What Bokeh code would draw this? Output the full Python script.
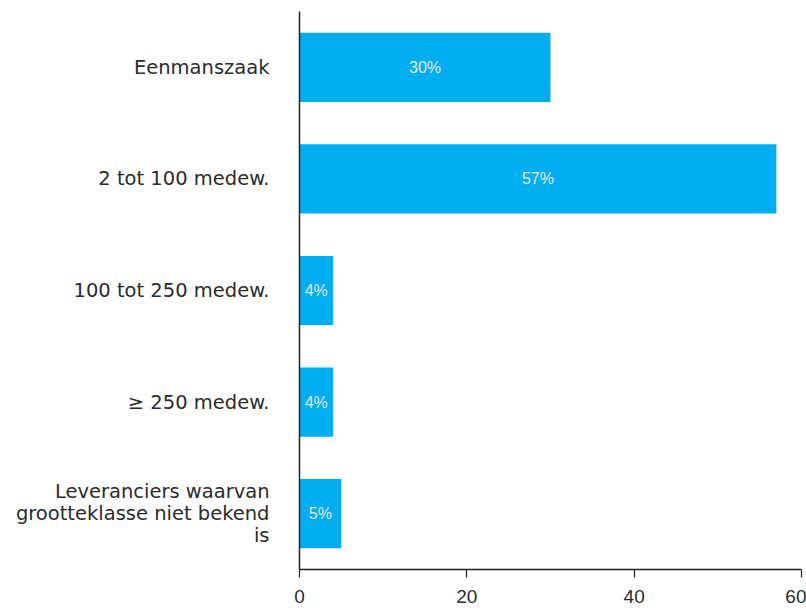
from bokeh.plotting import figure
from bokeh.models import ColumnDataSource, FactorRange, Range1d, FixedTicker
from bokeh.core.properties import value
from bokeh.embed import file_html
from bokeh.resources import INLINE

categories = ["Eenmanszaak", "2 tot 100 medew.", "100 tot 250 medew.", "\u2265 250 medew.",
              "Leveranciers waarvan\ngrootteklasse niet bekend\nis"]
values = [30, 57, 4, 4, 5]
bar_labels = ["30%", "57%", "4%", "4%", "5%"]
x_ticks = [0, 20, 40, 60]

src = ColumnDataSource(dict(cat=categories, val=values, half=[v / 2 for v in values], lab=bar_labels))

p = figure(width=806, height=610, output_backend="svg", toolbar_location=None,
           y_range=FactorRange(factors=list(reversed(categories))),
           x_range=Range1d(0, 60), min_border_left=299, min_border_right=5,
           min_border_top=11, min_border_bottom=41)
p.outline_line_color = None
p.grid.visible = False
p.background_fill_color = "white"
p.border_fill_color = "white"

p.hbar(y="cat", right="val", left=0, height=0.62, source=src, color="#00AEEF", line_color=None)
p.text(x="half", y="cat", text="lab", source=src, text_align="center", text_baseline="middle",
       text_color="#e6e6e6", text_font_size="16px", text_font=value("Liberation Sans"))

xa = p.xaxis[0]
xa.ticker = FixedTicker(ticks=x_ticks)
xa.major_tick_out = 8
xa.major_tick_in = 0
xa.minor_tick_line_color = None
xa.axis_line_color = "#222222"
xa.major_tick_line_color = "#222222"
xa.axis_line_width = 1.5
xa.major_tick_line_width = 1.2
xa.major_label_text_font = "Liberation Sans"
xa.major_label_text_font_size = "19px"
xa.major_label_text_color = "#2b2b2b"
xa.major_label_standoff = 12

ya = p.yaxis[0]
ya.major_tick_out = 0
ya.major_tick_in = 0
ya.minor_tick_line_color = None
ya.axis_line_color = "#222222"
ya.axis_line_width = 1.5
ya.major_label_text_font = "DejaVu Sans"
ya.major_label_text_font_size = "19.5px"
ya.major_label_text_color = "#2b2b2b"
ya.major_label_standoff = 30
ya.major_label_text_align = "right"
ya.major_label_text_line_height = 0.96

open("out.html", "w").write(file_html(p, INLINE))
